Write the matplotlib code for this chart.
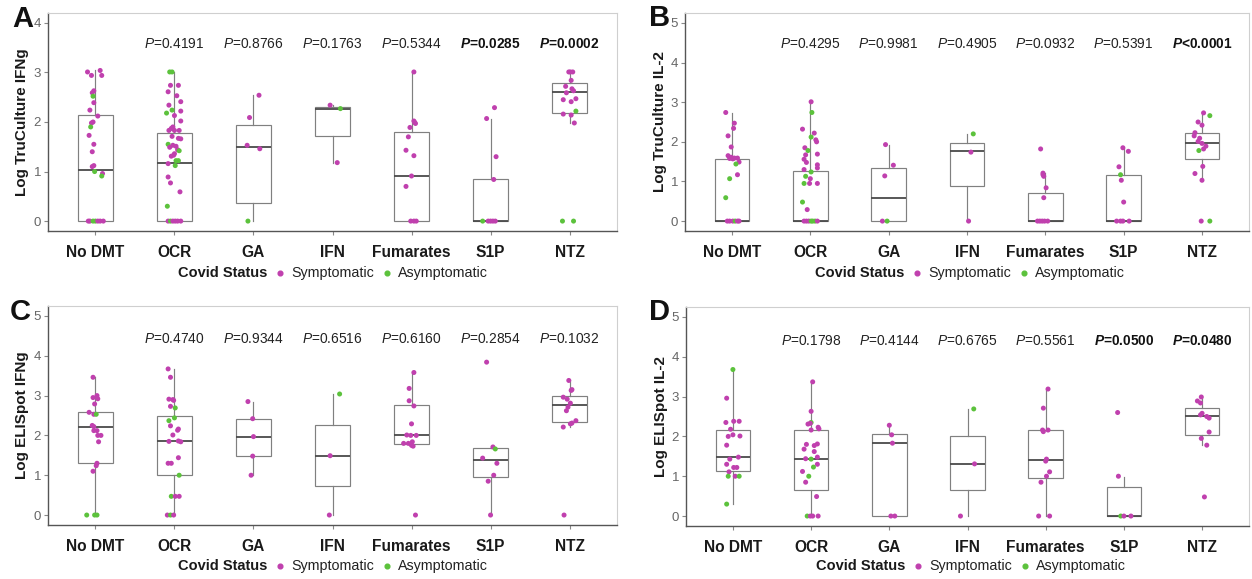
import matplotlib
matplotlib.use("Agg")
import matplotlib.pyplot as plt
from matplotlib.lines import Line2D

plt.rcParams["font.family"] = ["Liberation Sans", "DejaVu Sans"]
plt.rcParams["mathtext.fontset"] = "custom"
plt.rcParams["mathtext.rm"] = "Liberation Sans"
plt.rcParams["mathtext.it"] = "Liberation Sans:italic"
plt.rcParams["mathtext.bf"] = "Liberation Sans:bold:italic"

# ---------------- data ----------------
groups = ["No DMT", "OCR", "GA", "IFN", "Fumarates", "S1P", "NTZ"]
status_names = {"S": "Symptomatic", "A": "Asymptomatic"}

# Panel A: Log TruCulture IFNg
A_vals = [
    [3.01, 2.94, 3.04, 2.94, 2.59, 2.63, 2.52, 2.39, 2.24, 2.12, 2.00, 1.98, 1.90, 1.73, 1.55, 1.40,
     1.12, 1.10, 1.00, 0.96, 0.91, 0, 0, 0, 0, 0, 0, 0],
    [3.01, 3.01, 2.74, 2.74, 2.61, 2.53, 2.41, 2.34, 2.24, 2.18, 2.13, 2.22, 2.02, 1.90, 1.87, 1.83,
     1.83, 1.83, 1.71, 1.67, 1.66, 1.55, 1.53, 1.51, 1.49, 1.36, 1.33, 1.31, 1.44, 1.42, 1.22, 1.22,
     1.16, 1.12, 0.89, 0.77, 0.59, 0.30, 0, 0, 0, 0, 0, 0],
    [2.54, 2.09, 1.53, 1.46, 0],
    [2.34, 2.27, 1.18],
    [3.01, 2.02, 1.99, 1.97, 1.89, 1.70, 1.43, 1.32, 0.91, 0.70, 0, 0, 0],
    [2.29, 2.07, 1.30, 0.84, 0, 0, 0, 0, 0],
    [3.01, 3.01, 3.01, 2.84, 2.72, 2.67, 2.63, 2.59, 2.47, 2.45, 2.41, 2.22, 2.16, 2.14, 1.98, 0, 0],
]
A_status = [
    "SSSSSSASSSSSASSSSSASA" + "SSAASSS",
    "AASSSSSSAASSSSSSSSSSSASSSSSSSAAASASSSA" + "SASSSS",
    "SSSSA",
    "SAS",
    "SSSSSSSSSSSSS",
    "SSSSASSSS",
    "SSSSSSSSSSSASSSAA",
]
A_jit = [
    [-0.10, -0.05, 0.06, 0.08, -0.04, -0.02, -0.03, -0.02, -0.07, 0.03, -0.03, -0.05, -0.06, -0.08,
     -0.02, -0.04, -0.02, -0.04, -0.01, 0.09, 0.08, -0.09, -0.07, -0.03, 0.0, 0.03, 0.06, 0.10],
    [-0.06, -0.03, -0.05, 0.05, -0.08, 0.03, 0.08, -0.07, -0.03, -0.10, 0.0, 0.08, 0.08, -0.02, -0.04,
     -0.07, 0.0, 0.06, -0.03, 0.05, 0.08, -0.08, -0.02, 0.02, -0.06, 0.0, -0.01, -0.04, 0.04, 0.06,
     0.05, 0.02, -0.08, 0.01, -0.08, -0.05, 0.07, -0.09, -0.08, -0.05, -0.02, 0.01, 0.04, 0.08],
    [0.07, -0.05, -0.08, 0.08, -0.07],
    [-0.03, 0.10, 0.06],
    [0.03, 0.03, 0.04, 0.05, -0.02, -0.04, -0.07, 0.03, 0.0, -0.07, -0.01, 0.03, 0.06],
    [0.05, -0.05, 0.07, 0.04, -0.10, -0.03, 0.0, 0.03, 0.06],
    [-0.01, 0.01, 0.04, 0.02, -0.05, 0.03, 0.05, -0.04, 0.08, -0.08, 0.02, 0.08, -0.08, 0.02, 0.06,
     -0.09, 0.05],
]
# whisker low, q1, median, q3, whisker high
A_box = [[0, 0, 1.035, 2.15, 3.04], [0, 0, 1.18, 1.77, 3.01], [0, 0.36, 1.50, 1.94, 2.54],
         [1.18, 1.725, 2.27, 2.305, 2.34], [0, 0, 0.91, 1.79, 3.01], [0, 0, 0, 0.84, 2.07],
         [1.98, 2.18, 2.61, 2.78, 3.01]]
A_p = ["", "=0.4191", "=0.8766", "=0.1763", "=0.5344", "=0.0285", "=0.0002"]
A_pbold = [False, False, False, False, False, True, True]

# Panel B: Log TruCulture IL-2
B_vals = [
    [2.74, 2.47, 2.34, 2.15, 1.87, 1.65, 1.61, 1.57, 1.59, 1.59, 1.58, 1.49, 1.44, 1.17, 1.07, 0.59,
     0, 0, 0, 0, 0, 0],
    [3.01, 2.74, 2.32, 2.22, 2.12, 2.05, 2.00, 1.85, 1.78, 1.69, 1.67, 1.56, 1.48, 1.42, 1.34, 1.30,
     1.24, 1.13, 1.07, 0.95, 0.95, 0.95, 0.48, 0.29, 0, 0, 0, 0, 0, 0, 0],
    [1.93, 1.41, 1.14, 0, 0],
    [2.20, 1.74, 0],
    [1.82, 1.21, 1.17, 1.13, 0.84, 0.59, 0, 0, 0, 0, 0],
    [1.85, 1.76, 1.37, 1.17, 1.03, 0.48, 0, 0, 0, 0],
    [2.73, 2.66, 2.50, 2.42, 2.23, 2.15, 2.09, 2.01, 1.96, 1.89, 1.82, 1.78, 1.38, 1.20, 1.03, 0, 0],
]
B_status = [
    "SSSSSSSSSSSSASAA" + "SSSASS",
    "SASSASSSASSSSSSSAASASSAS" + "SSSAAAS",
    "SSSSA",
    "ASS",
    "SSSSSSSSSSS",
    "SSSASSSSSS",
    "SASSSSSSSSSASSSSA",
]
B_jit = [
    [-0.08, 0.03, 0.02, -0.05, -0.01, -0.05, -0.01, 0.01, 0.03, 0.07, -0.03, 0.09, 0.05, 0.07, -0.03,
     -0.08, -0.06, -0.03, 0.01, 0.04, 0.07, 0.09],
    [0.01, 0.02, -0.10, 0.05, 0.01, 0.07, 0.08, -0.07, -0.03, 0.09, -0.06, -0.08, -0.05, 0.09, 0.09,
     -0.08, 0.01, -0.06, 0.0, -0.08, -0.01, 0.09, -0.10, -0.04, -0.08, -0.05, -0.02, 0.01, 0.03,
     0.06, 0.09],
    [-0.04, 0.06, -0.05, -0.08, -0.02],
    [0.08, 0.05, 0.02],
    [-0.06, -0.03, -0.03, -0.02, 0.01, -0.02, -0.10, -0.07, -0.04, -0.01, 0.03],
    [-0.01, 0.06, -0.06, -0.04, -0.03, 0.0, -0.09, -0.04, -0.01, 0.07],
    [0.02, 0.10, -0.05, 0.0, -0.09, -0.10, -0.03, -0.05, 0.0, 0.05, 0.02, -0.04, 0.01, -0.09, 0.0,
     -0.01, 0.10],
]
B_box = [[0, 0, 0, 1.56, 2.72], [0, 0, 0, 1.26, 3.01], [0, 0, 0.57, 1.35, 1.93],
         [0, 0.88, 1.76, 1.96, 2.20], [0, 0, 0, 0.71, 1.21], [0, 0, 0, 1.17, 1.85],
         [1.03, 1.57, 1.96, 2.22, 2.73]]
B_p = ["", "=0.4295", "=0.9981", "=0.4905", "=0.0932", "=0.5391", "<0.0001"]
B_pbold = [False, False, False, False, False, False, True]

# Panel C: Log ELISpot IFNg
C_vals = [
    [3.46, 2.95, 3.00, 2.92, 2.79, 2.58, 2.53, 2.53, 2.25, 2.22, 2.12, 2.12, 2.00, 2.00, 1.84, 1.30,
     1.24, 1.10, 0, 0, 0],
    [3.67, 3.46, 2.91, 2.90, 2.88, 2.73, 2.69, 2.37, 2.44, 2.24, 2.16, 2.13, 2.01, 1.85, 1.86, 1.84,
     1.44, 1.30, 1.30, 1.00, 0.47, 0.47, 0.47, 0, 0, 0],
    [2.85, 2.42, 1.97, 1.48, 1.00],
    [3.04, 1.49, 0],
    [3.58, 3.18, 2.87, 2.74, 2.29, 2.01, 2.00, 2.00, 1.80, 1.80, 1.84, 1.75, 1.73, 0],
    [3.84, 1.71, 1.66, 1.43, 1.30, 1.00, 0.85, 0],
    [3.38, 3.15, 3.13, 2.96, 2.91, 2.81, 2.71, 2.62, 2.37, 2.31, 2.29, 2.21, 0],
]
C_status = [
    "SSSSSSSASSSSSSSSSS" + "AAA",
    "SSSSSSAAASSSSSSSSSSAASS" + "SAS",
    "SSSSS",
    "ASS",
    "SSSSSSSSSSSSSS",
    "SSASSSSS",
    "SSSSSSSSSSSSS",
]
C_jit = [
    [-0.03, -0.03, 0.02, 0.03, -0.01, -0.08, -0.02, 0.01, -0.04, -0.02, 0.02, -0.02, 0.03, 0.07, 0.04,
     0.02, 0.01, -0.03, -0.11, -0.01, 0.02],
    [-0.08, -0.05, -0.07, -0.02, -0.01, -0.05, 0.01, -0.07, 0.0, -0.05, 0.05, 0.04, -0.02, -0.07,
     0.05, 0.08, 0.05, -0.08, -0.04, 0.06, -0.04, 0.01, 0.06, -0.09, -0.05, -0.01],
    [-0.07, -0.01, 0.0, -0.01, -0.03],
    [0.09, -0.03, -0.04],
    [0.03, -0.03, -0.03, 0.03, 0.0, -0.06, -0.01, 0.06, -0.10, -0.04, 0.01, 0.0, 0.02, 0.05],
    [-0.05, 0.03, 0.06, -0.10, 0.08, 0.04, -0.03, 0.0],
    [-0.01, 0.03, 0.02, -0.08, -0.03, 0.01, -0.02, -0.04, 0.08, 0.03, 0.01, -0.08, -0.07],
]
C_box = [[0, 1.30, 2.22, 2.58, 3.46], [0, 1.0, 1.87, 2.49, 3.67], [1.0, 1.48, 1.96, 2.42, 2.85],
         [0, 0.74, 1.49, 2.26, 3.04], [1.73, 1.79, 2.0, 2.77, 3.58], [0, 0.96, 1.37, 1.68, 1.71],
         [2.21, 2.34, 2.76, 3.0, 3.38]]
C_p = ["", "=0.4740", "=0.9344", "=0.6516", "=0.6160", "=0.2854", "=0.1032"]
C_pbold = [False] * 7

# Panel D: Log ELISpot IL-2
D_vals = [
    [3.68, 2.96, 2.35, 2.38, 2.38, 2.18, 2.04, 2.00, 2.01, 1.78, 1.43, 1.48, 1.30, 1.22, 1.22, 1.11,
     1.00, 1.00, 1.00, 0.30],
    [3.37, 2.63, 2.31, 2.35, 2.33, 2.23, 2.19, 2.16, 1.80, 1.77, 1.81, 1.68, 1.62, 1.48, 1.44, 1.43,
     1.30, 1.23, 1.12, 1.00, 0.85, 0.49, 0, 0, 0, 0],
    [2.28, 2.04, 1.83, 0, 0],
    [2.69, 1.31, 0],
    [3.19, 2.71, 2.16, 2.12, 2.16, 1.43, 1.38, 1.11, 1.00, 0.85, 0, 0],
    [2.60, 1.00, 0, 0, 0],
    [2.99, 2.89, 2.84, 2.58, 2.54, 2.50, 2.46, 2.11, 1.95, 1.78, 0.48],
]
D_status = [
    "ASSSSSSSSSSSSSSSASAA",
    "SSSASSSSSSSSSSSASASASS" + "ASSS",
    "SSSSS",
    "ASS",
    "SSSSSSSSSSSS",
    "SSASS",
    "SSSSSSSSSSS",
]
D_jit = [
    [0.0, -0.08, -0.09, 0.01, 0.08, -0.03, 0.0, -0.06, 0.09, -0.08, -0.04, 0.07, -0.08, 0.01, 0.05,
     -0.05, -0.06, 0.03, 0.08, -0.08],
    [0.02, 0.0, -0.04, 0.0, -0.01, 0.09, 0.10, 0.0, -0.06, 0.04, 0.08, -0.09, 0.04, 0.08, -0.07, 0.0,
     0.08, 0.03, -0.11, -0.03, -0.07, 0.07, -0.05, -0.01, 0.02, 0.09],
    [0.0, 0.03, 0.04, 0.02, 0.07],
    [0.08, 0.09, -0.09],
    [0.03, -0.03, -0.04, -0.03, 0.03, 0.01, 0.0, 0.05, 0.01, -0.06, -0.09, 0.05],
    [-0.08, -0.07, -0.04, 0.0, 0.09],
    [-0.01, -0.06, -0.02, 0.0, -0.02, 0.06, 0.09, 0.09, -0.01, 0.06, 0.03],
]
D_box = [[0.30, 1.12, 1.48, 2.17, 3.68], [0, 0.65, 1.43, 2.16, 3.37], [0, 0, 1.83, 2.05, 2.28],
         [0, 0.65, 1.31, 2.0, 2.69], [0, 0.96, 1.40, 2.16, 3.19], [0, 0, 0, 0.74, 0.99],
         [1.78, 2.03, 2.52, 2.71, 2.99]]
D_p = ["", "=0.1798", "=0.4144", "=0.6765", "=0.5561", "=0.0500", "=0.0480"]
D_pbold = [False, False, False, False, False, True, True]

# ---------------- style ----------------
W, H = 1252, 579
colors = {"S": "#C040AE", "A": "#5CC23C"}
box_col = "#808080"

fig = plt.figure(figsize=(W / 100, H / 100), dpi=100)
fig.patch.set_facecolor("white")


def px_axes(left, top, right, bottom):
    return fig.add_axes([left / W, 1 - bottom / H, (right - left) / W, (bottom - top) / H])


def draw_panel(ax, vals, status, jit, box, pvals, pbold, p_y, ylim, yticks, ylabel, ylab_x):
    stats = [dict(whislo=b[0], q1=b[1], med=b[2], q3=b[3], whishi=b[4], label=g)
             for b, g in zip(box, groups)]
    ax.bxp(stats, positions=range(1, 8), widths=0.44, showfliers=False, showcaps=False,
           patch_artist=True,
           boxprops=dict(facecolor="white", edgecolor=box_col, linewidth=0.85),
           whiskerprops=dict(color=box_col, linewidth=0.85),
           medianprops=dict(color="#4a4a4a", linewidth=1.3))
    for i in range(len(groups)):
        assert len(vals[i]) == len(status[i]) == len(jit[i]), (ylabel, i)
        xs = [i + 1 + d for d in jit[i]]
        cs = [colors[s] for s in status[i]]
        ax.scatter(xs, vals[i], c=cs, s=13, linewidths=0, zorder=3)
        if pvals[i]:
            if pbold[i]:
                txt = r"$\mathbf{P}$" + pvals[i]
                ax.text(i + 1, p_y, txt, ha="center", va="center", fontsize=9.9,
                        fontweight="bold", color="#111111")
            else:
                txt = r"$\mathit{P}$" + pvals[i]
                ax.text(i + 1, p_y, txt, ha="center", va="center", fontsize=9.9,
                        color="#222222")
    ax.set_xlim(0.4, 7.6)
    ax.set_ylim(*ylim)
    ax.set_yticks(yticks)
    ax.set_xticks(range(1, 8))
    ax.set_xticklabels(groups, fontsize=11.2, fontweight="bold", color="#1a1a1a")
    ax.tick_params(axis="x", length=3, color="#888888", pad=7)
    ax.tick_params(axis="y", length=3, color="#888888", labelsize=9.5, labelcolor="#666666", pad=2)
    ax.set_ylabel(ylabel, fontsize=11, fontweight="bold", color="#1a1a1a")
    ax.yaxis.set_label_coords(ylab_x, 0.5)
    for side in ["left", "bottom"]:
        ax.spines[side].set_color("#555555")
        ax.spines[side].set_linewidth(1.0)
    for side in ["top", "right"]:
        ax.spines[side].set_color("#cfcfcf")
        ax.spines[side].set_linewidth(0.8)


def add_legend(ax_left_px, y_px):
    y = 1 - y_px / H
    fig.text((ax_left_px + 130) / W, y, "Covid Status", fontsize=10.5, fontweight="bold",
             va="center", ha="left", color="#1a1a1a")
    for dx_m, dx_t, key in [(232, 243, "S"), (339, 350, "A")]:
        fig.add_artist(Line2D([(ax_left_px + dx_m) / W], [y], transform=fig.transFigure,
                              marker="o", markersize=3.4, linestyle="", color=colors[key]))
        fig.text((ax_left_px + dx_t) / W, y, status_names[key], fontsize=10.3, va="center",
                 ha="left", color="#222222")


axA = px_axes(48, 13, 617, 231)
axB = px_axes(685, 13, 1249, 231)
axC = px_axes(48, 306, 617, 525)
axD = px_axes(686, 307, 1249, 526)

draw_panel(axA, A_vals, A_status, A_jit, A_box, A_p, A_pbold, 3.57, (-0.2, 4.2), range(0, 5),
           "Log TruCulture IFNg", -0.034)
draw_panel(axB, B_vals, B_status, B_jit, B_box, B_p, B_pbold, 4.47, (-0.25, 5.25), range(0, 6),
           "Log TruCulture IL-2", -0.032)
draw_panel(axC, C_vals, C_status, C_jit, C_box, C_p, C_pbold, 4.41, (-0.25, 5.25), range(0, 6),
           "Log ELISpot IFNg", -0.034)
draw_panel(axD, D_vals, D_status, D_jit, D_box, D_p, D_pbold, 4.39, (-0.25, 5.25), range(0, 6),
           "Log ELISpot IL-2", -0.032)

add_legend(48, 273)
add_legend(685, 273)
add_legend(48, 566)
add_legend(686, 566)

for x_px, y_px, letter in [(12, 5, "A"), (649, 4, "B"), (10, 298, "C"), (649, 298, "D")]:
    fig.text(x_px / W, 1 - y_px / H, letter, fontsize=21, fontweight="bold", va="top", ha="left",
             color="#111111")

fig.savefig("out.png", dpi=100, facecolor="white")
